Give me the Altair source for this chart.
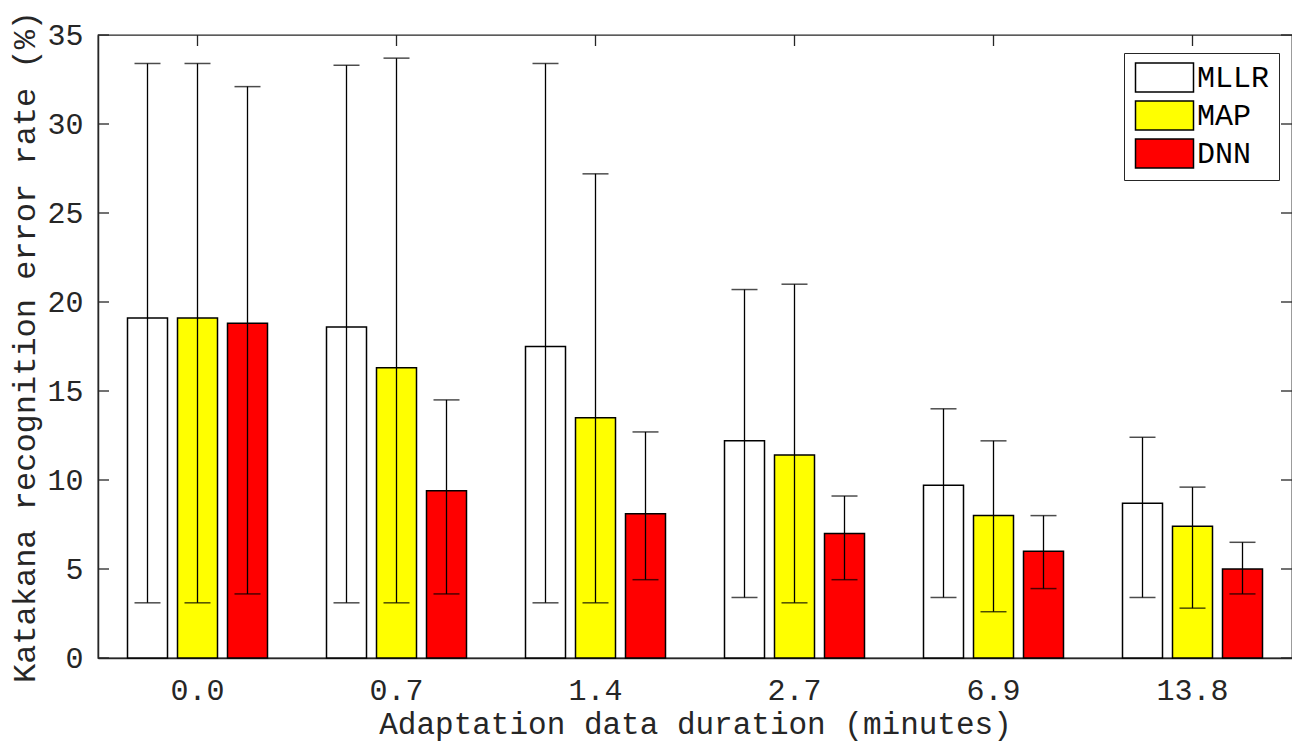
import altair as alt
import pandas as pd

categories = ["0.0", "0.7", "1.4", "2.7", "6.9", "13.8"]
methods = ["MLLR", "MAP", "DNN"]
colors = ["#ffffff", "#ffff00", "#ff0000"]

mllr_mean = [19.1, 18.6, 17.5, 12.2, 9.7, 8.7]
mllr_low = [3.1, 3.1, 3.1, 3.4, 3.4, 3.4]
mllr_high = [33.4, 33.3, 33.4, 20.7, 14.0, 12.4]

map_mean = [19.1, 16.3, 13.5, 11.4, 8.0, 7.4]
map_low = [3.1, 3.1, 3.1, 3.1, 2.6, 2.8]
map_high = [33.4, 33.7, 27.2, 21.0, 12.2, 9.6]

dnn_mean = [18.8, 9.4, 8.1, 7.0, 6.0, 5.0]
dnn_low = [3.6, 3.6, 4.4, 4.4, 3.9, 3.6]
dnn_high = [32.1, 14.5, 12.7, 9.1, 8.0, 6.5]

y_ticks = [0, 5, 10, 15, 20, 25, 30, 35]

rows = []
for m, means, lows, highs in [("MLLR", mllr_mean, mllr_low, mllr_high),
                              ("MAP", map_mean, map_low, map_high),
                              ("DNN", dnn_mean, dnn_low, dnn_high)]:
    for c, v, lo, hi in zip(categories, means, lows, highs):
        rows.append({"cat": c, "method": m, "value": v, "low": lo, "high": hi})
df = pd.DataFrame(rows)
df_cats = pd.DataFrame({"cat": categories})
df_y = pd.DataFrame({"yv": y_ticks})

W, H = 1194, 623
FONT = "Liberation Mono"
AX = "#262626"

xenc = alt.X("cat:N", sort=categories, scale=alt.Scale(paddingInner=0, paddingOuter=0),
             axis=alt.Axis(title="Adaptation data duration (minutes)", labelAngle=0,
                           ticks=False, labelPadding=17, titleBaseline="alphabetic",
                           titleY=75, titleFontSize=31))
xoff = alt.XOffset("method:N", sort=methods,
                   scale=alt.Scale(paddingInner=0.2, paddingOuter=0.59))
yscale = alt.Scale(domain=[0, 35], nice=False)

bars = alt.Chart(df).mark_bar(stroke="black", strokeWidth=1.5).encode(
    x=xenc,
    xOffset=xoff,
    y=alt.Y("value:Q", stack=None, scale=yscale,
            axis=alt.Axis(title="Katakana recognition error rate (%)", values=y_ticks,
                          ticks=False, grid=False, labelPadding=15, titlePadding=5)),
    color=alt.Color("method:N", sort=methods,
                    scale=alt.Scale(domain=methods, range=colors),
                    legend=alt.Legend(title=None, orient="none", legendX=1026, legendY=18,
                                      symbolType="M-2,-1H2V1H-2Z", symbolSize=841,
                                      symbolOffset=16,
                                      symbolStrokeColor="black", symbolStrokeWidth=1.5,
                                      labelFont=FONT, labelFontSize=30, labelColor="black",
                                      labelOffset=17, rowPadding=3, padding=9,
                                      strokeColor=AX, fillColor="white")),
)

err = alt.Chart(df).mark_rule(color="black", strokeWidth=1.3).encode(
    x=alt.X("cat:N", sort=categories),
    xOffset=xoff,
    y=alt.Y("low:Q", scale=yscale),
    y2="high:Q",
)

caps_hi = alt.Chart(df).mark_tick(color="black", size=26, thickness=1.5, orient="horizontal").encode(
    x=alt.X("cat:N", sort=categories),
    xOffset=xoff,
    y=alt.Y("high:Q", scale=yscale),
)
caps_lo = alt.Chart(df).mark_tick(color="black", size=26, thickness=1.5, orient="horizontal").encode(
    x=alt.X("cat:N", sort=categories),
    xOffset=xoff,
    y=alt.Y("low:Q", scale=yscale),
)

top_ticks = alt.Chart(df_cats).mark_rule(color=AX, strokeWidth=1.3).encode(
    x=alt.X("cat:N", sort=categories),
    y=alt.value(0),
    y2=alt.value(11),
)
left_ticks = alt.Chart(df_y).mark_rule(color=AX, strokeWidth=1.3).encode(
    y=alt.Y("yv:Q", scale=yscale),
    x=alt.value(0),
    x2=alt.value(11),
)
right_ticks = alt.Chart(df_y).mark_rule(color=AX, strokeWidth=1.3).encode(
    y=alt.Y("yv:Q", scale=yscale),
    x=alt.value(W - 11),
    x2=alt.value(W),
)

chart = alt.layer(bars, err, caps_hi, caps_lo, top_ticks, left_ticks, right_ticks).properties(
    width=W, height=H,
    autosize=alt.AutoSizeParams(type="none"),
    padding={"left": 90, "top": 27, "right": 0, "bottom": 84},
).configure_view(
    stroke=AX, strokeWidth=1.3
).configure_axis(
    labelFont=FONT, labelFontSize=30, labelColor=AX,
    titleFont=FONT, titleFontSize=32, titleFontWeight="normal", titleColor=AX,
    domainColor=AX, domainWidth=1.5,
)

chart.save("out.html", embed_options={"renderer": "svg", "actions": False})
